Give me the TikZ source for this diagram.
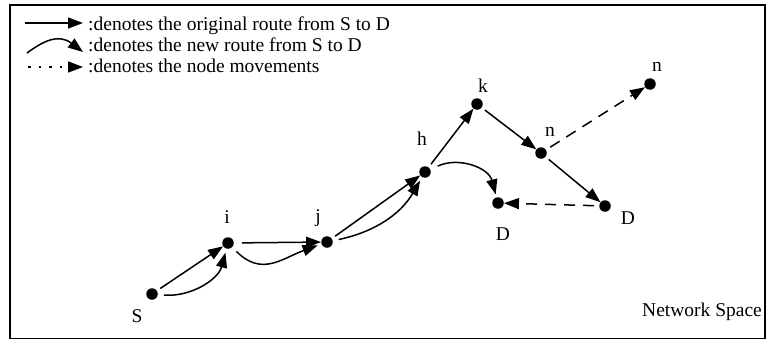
\documentclass[tikz,border=0pt]{standalone}
\usepackage{fontspec}
\setmainfont{Liberation Serif}
\usetikzlibrary{arrows.meta}
\begin{document}
\begin{tikzpicture}[x=1pt,y=-1pt,
  dot/.style={circle,fill=black,minimum size=11.5pt,inner sep=0pt},
  lbl/.style={anchor=base,inner sep=0pt,font=\fontsize{19.5}{22}\selectfont},
  tip/.style={-{Triangle[length=15pt,width=11pt]}},
  orig/.style={tip,line width=1.5pt,shorten <=4pt},
  newroute/.style={tip,line width=1.5pt,shorten <=6pt,shorten >=4pt},
  move/.style={tip,line width=1.5pt,dash pattern=on 11pt off 8pt,shorten <=5pt}]
\useasboundingbox (0,0) rectangle (767,340);
\draw[line width=1.2pt] (10,5) rectangle (765,338.5);
% legend
\coordinate (l1a) at (25,23); \coordinate (l1b) at (83,23);
\draw[tip,line width=1.5pt] (l1a) -- (l1b);
\node[lbl,anchor=base west] (t1) at (88,30) {:denotes the original route from S to D};
\coordinate (l2a) at (27,53); \coordinate (l2b) at (83,52);
\draw[tip,line width=1.5pt] (l2a) .. controls (42,42) and (58,33) .. (l2b);
\node[lbl,anchor=base west] (t2) at (88,51) {:denotes the new route from S to D};
\coordinate (l3a) at (28,67); \coordinate (l3b) at (83,67);
\draw[tip,line width=1.5pt,dash pattern=on 2.5pt off 8pt] (l3a) -- (l3b);
\node[lbl,anchor=base west] (t3) at (88,72) {:denotes the node movements};
% nodes
\node[dot] (S) at (152,294) {};
\node[dot] (i) at (228,243) {};
\node[dot] (j) at (327,242) {};
\node[dot] (h) at (425,172) {};
\node[dot] (k) at (477,104) {};
\node[dot] (n) at (541,153) {};
\node[dot] (n2) at (650,84) {};
\node[dot] (D) at (605,206) {};
\node[dot] (D2) at (498,203) {};
% labels
\node[lbl] (Sl) at (137,322) {S};
\node[lbl] (il) at (227,223) {i};
\node[lbl] (jl) at (318,222) {j};
\node[lbl] (hl) at (422,145) {h};
\node[lbl] (kl) at (483,92) {k};
\node[lbl] (nl) at (550,136) {n};
\node[lbl] (n2l) at (657,71) {n};
\node[lbl] (Dl) at (628,224) {D};
\node[lbl] (D2l) at (503,240) {D};
\node[lbl] (ns) at (702,316) {Network Space};
% original route
\draw[orig] (S) -- (i);
\draw[orig,shorten <=8pt] (i) -- (j);
\draw[orig] (j) -- (h);
\draw[orig] (h) -- (k);
\draw[orig] (k) -- (n);
\draw[orig] (n) -- (D);
% new route
\draw[newroute] (S) to[out=-5,in=-105] (i);
\draw[newroute] (i) to[out=-45,in=200,looseness=1.2] (j);
\draw[newroute] (j) to[out=12,in=-120] (h);
\draw[newroute,shorten <=8pt,shorten >=3pt] (h) to[out=25,in=105,looseness=1.1] (D2);
% movements
\draw[move] (n) -- (n2);
\draw[move] (D) -- (D2);
\end{tikzpicture}
\end{document}
